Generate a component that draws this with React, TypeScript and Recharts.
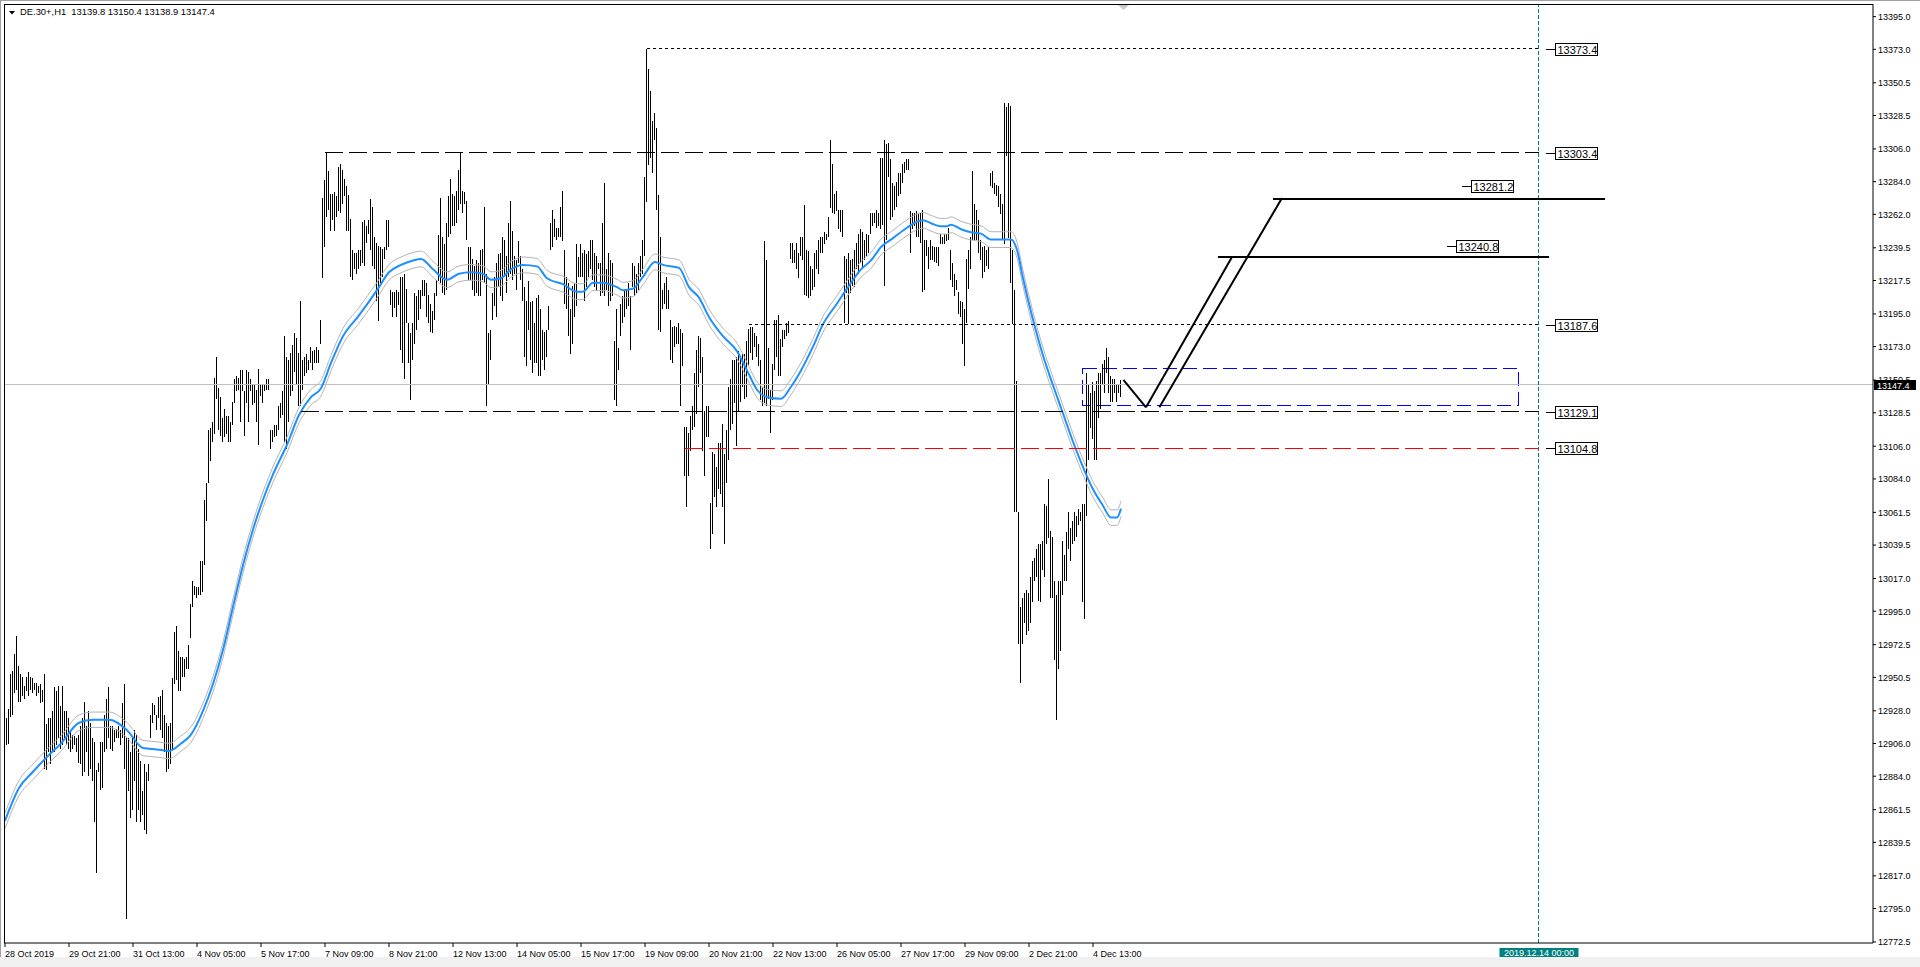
import React from "react";
import {
  ComposedChart,
  Bar,
  Line,
  XAxis,
  YAxis,
  ReferenceLine,
  ReferenceArea,
  ReferenceDot,
} from "recharts";

const FONT = "'Liberation Sans', Arial, sans-serif";

const SYMBOL = "DE.30+,H1";
const LAST_OHLC = ["13139.8", "13150.4", "13138.9", "13147.4"];
const CURRENT_PRICE = 13147.4;

// one time label every 32 hourly bars
const BARS_PER_LABEL = 32;
const TIME_LABELS = [
  "28 Oct 2019", "29 Oct 21:00", "31 Oct 13:00", "4 Nov 05:00", "5 Nov 17:00",
  "7 Nov 09:00", "8 Nov 21:00", "12 Nov 13:00", "14 Nov 05:00", "15 Nov 17:00",
  "19 Nov 09:00", "20 Nov 21:00", "22 Nov 13:00", "26 Nov 05:00", "27 Nov 17:00",
  "29 Nov 09:00", "2 Dec 21:00", "4 Dec 13:00",
];

const PRICE_TICKS = [
  13395.0, 13373.0, 13350.5, 13328.5, 13306.0, 13284.0, 13262.0, 13239.5, 13217.5,
  13195.0, 13173.0, 13150.5, 13128.5, 13106.0, 13084.0, 13061.5, 13039.5, 13017.0,
  12995.0, 12972.5, 12950.5, 12928.0, 12906.0, 12884.0, 12861.5, 12839.5, 12817.0,
  12795.0, 12772.5,
];

// H1 bars as [high, low], one list per time-label interval
const B_28OCT = [[12938,12879],[12923,12905],[12929,12906],[12953,12924],[12955,12925],[12966,12940],[12978,12942],[12958,12934],[12953,12934],[12951,12938],[12945,12936],[12951,12941],[12954,12938],[12951,12942],[12950,12940],[12947,12942],[12947,12938],[12945,12940],[12946,12933],[12942,12934],[12953,12889],[12919,12888],[12923,12900],[12923,12892],[12928,12901],[12944,12900],[12941,12905],[12945,12910],[12931,12902],[12945,12905],[12928,12910],[12928,12905]];
const B_29OCT = [[12923,12902],[12915,12900],[12912,12902],[12911,12905],[12910,12900],[12912,12893],[12918,12892],[12923,12884],[12934,12887],[12918,12900],[12928,12884],[12920,12889],[12910,12881],[12907,12853],[12888,12819],[12893,12887],[12907,12875],[12907,12876],[12925,12900],[12936,12902],[12944,12910],[12918,12902],[12918,12901],[12915,12907],[12916,12910],[12918,12910],[12915,12905],[12933,12910],[12946,12889],[12910,12788],[12910,12874],[12900,12856]];
const B_31OCT = [[12910,12861],[12915,12881],[12912,12853],[12902,12861],[12894,12853],[12874,12858],[12892,12848],[12887,12845],[12892,12881],[12925,12910],[12933,12920],[12932,12925],[12925,12915],[12937,12923],[12938,12915],[12942,12910],[12925,12900],[12920,12887],[12918,12889],[12920,12892],[12950,12902],[12981,12946],[12985,12949],[12968,12941],[12964,12941],[12964,12951],[12963,12951],[12964,12956],[12972,12956],[13000,12977],[13015,12998],[13012,13006]];
const B_4NOV = [[13011,13004],[13011,13006],[13029,13006],[13029,13008],[13070,13026],[13081,13056],[13117,13081],[13118,13096],[13122,13109],[13152,13114],[13166,13138],[13145,13117],[13139,13113],[13125,13109],[13131,13112],[13126,13114],[13126,13109],[13122,13109],[13136,13120],[13151,13135],[13153,13143],[13152,13144],[13157,13122],[13157,13143],[13143,13113],[13157,13135],[13156,13122],[13151,13143],[13148,13134],[13147,13135],[13144,13122],[13158,13107]];
const B_5NOV = [[13148,13140],[13147,13135],[13148,13143],[13151,13144],[13151,13144],[13117,13104],[13117,13109],[13120,13112],[13120,13113],[13133,13117],[13135,13125],[13143,13127],[13180,13109],[13166,13104],[13164,13122],[13169,13140],[13174,13143],[13182,13156],[13179,13148],[13169,13133],[13204,13133],[13164,13144],[13166,13153],[13168,13155],[13164,13157],[13173,13162],[13170,13157],[13171,13162],[13173,13162],[13171,13162],[13191,13175],[13273,13219]];
const B_7NOV = [[13285,13240],[13303,13260],[13291,13265],[13276,13251],[13276,13258],[13277,13251],[13274,13260],[13294,13264],[13296,13263],[13292,13269],[13286,13274],[13281,13251],[13275,13251],[13259,13220],[13238,13218],[13236,13225],[13236,13222],[13238,13225],[13238,13227],[13257,13229],[13258,13227],[13254,13243],[13258,13249],[13272,13238],[13267,13227],[13247,13225],[13243,13204],[13241,13190],[13240,13216],[13239,13220],[13240,13232],[13258,13238]];
const B_8NOV = [[13258,13240],[13211,13201],[13210,13193],[13210,13199],[13211,13193],[13210,13201],[13220,13171],[13220,13162],[13222,13151],[13212,13189],[13189,13162],[13182,13137],[13189,13164],[13209,13175],[13207,13184],[13211,13191],[13211,13198],[13218,13207],[13218,13207],[13216,13193],[13208,13189],[13202,13183],[13197,13182],[13209,13191],[13218,13207],[13248,13217],[13273,13216],[13247,13209],[13242,13208],[13256,13211],[13274,13247],[13286,13249]];
const B_12NOV = [[13276,13254],[13274,13254],[13278,13256],[13292,13265],[13303,13269],[13278,13263],[13277,13269],[13271,13245],[13240,13218],[13240,13218],[13232,13211],[13227,13207],[13231,13209],[13229,13207],[13238,13207],[13239,13218],[13267,13216],[13222,13133],[13182,13148],[13184,13164],[13209,13191],[13220,13200],[13229,13193],[13235,13213],[13236,13207],[13247,13204],[13245,13220],[13234,13209],[13256,13220],[13271,13222],[13251,13218],[13234,13222]];
const B_14NOV = [[13231,13211],[13244,13229],[13234,13218],[13225,13204],[13213,13166],[13204,13160],[13217,13184],[13203,13164],[13204,13155],[13189,13162],[13206,13162],[13208,13153],[13198,13153],[13184,13164],[13183,13157],[13184,13166],[13200,13184],[13256,13238],[13265,13240],[13259,13247],[13253,13245],[13253,13247],[13267,13247],[13278,13244],[13238,13202],[13220,13198],[13216,13180],[13198,13168],[13214,13175],[13216,13193],[13242,13200],[13233,13220]];
const B_15NOV = [[13242,13220],[13236,13220],[13238,13204],[13235,13213],[13237,13220],[13245,13225],[13245,13218],[13236,13213],[13234,13211],[13229,13225],[13229,13207],[13256,13209],[13283,13207],[13225,13211],[13236,13200],[13231,13204],[13229,13207],[13177,13137],[13198,13133],[13172,13157],[13202,13180],[13207,13189],[13211,13193],[13211,13198],[13216,13200],[13207,13171],[13229,13213],[13227,13207],[13222,13209],[13229,13211],[13234,13220],[13245,13222]];
const B_19NOV = [[13287,13234],[13373,13270],[13360,13295],[13345,13300],[13325,13290],[13330,13312],[13320,13265],[13275,13184],[13247,13183],[13211,13198],[13216,13202],[13220,13198],[13211,13198],[13191,13164],[13186,13162],[13187,13173],[13186,13175],[13189,13175],[13185,13133],[13182,13160],[13119,13086],[13119,13065],[13115,13086],[13126,13103],[13133,13117],[13155,13119],[13171,13128],[13180,13146],[13179,13155],[13166,13103],[13130,13086],[13133,13112]];
const B_20NOV = [[13133,13112],[13068,13037],[13102,13047],[13101,13072],[13092,13065],[13108,13077],[13108,13074],[13121,13065],[13101,13040],[13117,13081],[13146,13097],[13151,13117],[13164,13121],[13164,13135],[13166,13106],[13170,13130],[13166,13136],[13168,13146],[13168,13138],[13177,13139],[13185,13160],[13186,13169],[13186,13164],[13182,13173],[13180,13166],[13175,13160],[13164,13137],[13146,13133],[13244,13135],[13231,13133],[13172,13138],[13144,13115]];
const B_22NOV = [[13161,13137],[13191,13157],[13191,13166],[13194,13153],[13178,13153],[13184,13173],[13184,13178],[13189,13180],[13190,13182],[13243,13232],[13243,13229],[13238,13229],[13243,13225],[13236,13219],[13247,13234],[13247,13231],[13268,13208],[13238,13207],[13237,13206],[13227,13207],[13225,13211],[13236,13213],[13238,13225],[13245,13222],[13247,13236],[13247,13236],[13250,13242],[13249,13245],[13260,13247],[13312,13266],[13296,13263],[13276,13262]];
const B_26NOV = [[13278,13264],[13265,13252],[13265,13250],[13265,13247],[13234,13189],[13232,13209],[13236,13188],[13231,13209],[13232,13214],[13238,13213],[13243,13225],[13249,13222],[13252,13229],[13250,13225],[13245,13231],[13249,13234],[13248,13236],[13263,13249],[13263,13254],[13263,13256],[13265,13253],[13263,13254],[13300,13252],[13300,13255],[13312,13214],[13309,13245],[13310,13287],[13299,13258],[13283,13260],[13281,13265],[13284,13267],[13290,13274]];
const B_27NOV = [[13290,13276],[13296,13283],[13297,13290],[13299,13292],[13299,13292],[13264,13236],[13263,13252],[13263,13254],[13264,13247],[13262,13247],[13263,13243],[13265,13210],[13245,13211],[13245,13234],[13240,13225],[13245,13231],[13241,13231],[13240,13230],[13240,13229],[13240,13227],[13249,13242],[13247,13242],[13249,13242],[13249,13244],[13253,13245],[13238,13218],[13229,13213],[13222,13207],[13218,13211],[13210,13195],[13204,13193],[13203,13175]];
const B_29NOV = [[13198,13160],[13232,13189],[13238,13212],[13247,13225],[13291,13245],[13269,13245],[13265,13245],[13258,13236],[13245,13231],[13240,13219],[13241,13223],[13238,13227],[13240,13225],[13290,13281],[13291,13280],[13283,13276],[13282,13274],[13281,13267],[13276,13262],[13269,13245],[13337,13242],[13334,13301],[13337,13246],[13335,13216],[13238,13188],[13211,13062],[13150,13062],[13062,12973],[12998,12947],[13004,12973],[13007,12987],[13009,12979]];
const B_2DEC = [[13007,12982],[13018,12987],[13029,13001],[13031,13015],[13037,13018],[13040,13002],[13040,13001],[13042,13023],[13067,13018],[13066,13040],[13084,13044],[13049,13004],[13045,13004],[13015,12962],[13006,12922],[13015,12956],[13015,12968],[13042,13006],[13033,13015],[13048,13015],[13062,13037],[13051,13029],[13056,13040],[13062,13042],[13059,13045],[13064,13053],[13062,13056],[13067,13001],[13067,12990],[13155,13059],[13147,13097],[13142,13118]];
const B_4DEC = [[13149,13111],[13143,13097],[13150,13097],[13155,13125],[13155,13131],[13161,13147],[13164,13142],[13172,13155],[13166,13142],[13153,13136],[13151,13136],[13151,13142],[13148,13136],[13148,13142],[13150.4,13138.9]];

// moving average: [bar index, value]
const MA_POINTS = [
  [0,12854],[7,12876],[14,12887],[21,12897],[28,12906],[37,12920],[44,12922],[52,12922],[61,12915],
  [69,12903],[76,12902],[82,12901],[88,12906],[93,12912],[99,12928],[104,12946],[109,12969],[114,12998],
  [119,13026],[124,13050],[129,13070],[134,13087],[141,13107],[147,13127],[153,13139],[158,13145],
  [163,13162],[169,13180],[177,13194],[186,13211],[192,13223],[198,13228],[204,13231],[208,13232],
  [214,13225],[221,13218],[227,13222],[233,13223],[239,13222],[243,13218],[248,13219],[253,13225],
  [259,13228],[266,13227],[271,13219],[279,13215],[286,13210],[289,13210],[294,13216],[299,13216],
  [306,13213],[309,13211],[314,13212],[319,13220],[325,13230],[329,13228],[337,13226],[342,13213],
  [347,13206],[352,13193],[359,13180],[366,13170],[371,13157],[376,13144],[381,13139],[388,13138],
  [393,13146],[398,13157],[404,13173],[409,13188],[416,13202],[421,13212],[428,13225],[433,13231],
  [438,13240],[444,13246],[451,13253],[456,13257],[459,13258],[463,13256],[468,13254],[471,13254],
  [473,13255],[478,13252],[483,13250],[488,13249],[493,13245],[498,13245],[503,13245],[506,13238],
  [509,13219],[514,13191],[519,13167],[524,13147],[529,13128],[534,13109],[539,13092],[544,13077],
  [549,13066],[553,13058],[556,13058],[558,13064],
];
const ENVELOPE = 0.0004;

// horizontal levels drawn up to the future date line
const LEVELS = [
  { price: 13373.4, from: 321, kind: "dot" },
  { price: 13303.4, from: 160, kind: "dash" },
  { price: 13187.6, from: 372, kind: "dot" },
  { price: 13129.1, from: 148, kind: "dash" },
  { price: 13104.8, from: 340, kind: "red" },
];
const TARGETS = [
  { price: 13272.4, from: 634, to: 800 },
  { price: 13233.5, from: 606.5, to: 772 },
];
const PATH_A = [[559.2, 13150.6], [570.5, 13132.2], [613.5, 13233.3]];
const PATH_B = [[577.2, 13132.2], [638.5, 13273.0]];
const ZONE = { x1: 538.75, x2: 756.7, top: 13158.4, bottom: 13133.6 };
const FUTURE_AT = 767;
const FUTURE_LABEL = "2019.12.14 00:00";
const TAGS = [
  { price: 13373.4, at: 770 },
  { price: 13303.4, at: 770 },
  { price: 13281.2, at: 728 },
  { price: 13240.8, at: 720.5 },
  { price: 13187.6, at: 770 },
  { price: 13129.1, at: 770 },
  { price: 13104.8, at: 770 },
];

const SEGMENTS = [
  B_28OCT, B_29OCT, B_31OCT, B_4NOV, B_5NOV, B_7NOV, B_8NOV, B_12NOV, B_14NOV,
  B_15NOV, B_19NOV, B_20NOV, B_22NOV, B_26NOV, B_27NOV, B_29NOV, B_2DEC, B_4DEC,
];

const rows: any[] = SEGMENTS.flat().map(([hi, lo], i) => ({ i, range: [lo, hi] }));
MA_POINTS.forEach(([i, v]) => {
  rows[i].ma = v;
  rows[i].up = v * (1 + ENVELOPE);
  rows[i].dn = v * (1 - ENVELOPE);
});

const labelTicks = TIME_LABELS.map((_, k) => k * BARS_PER_LABEL);

const W = 1920;
const H = 967;

function Stick(props: any) {
  const { x, y, width, height } = props;
  if (x == null || y == null) return null;
  const cx = Math.floor(x + width / 2) + 0.5;
  const top = Math.min(y, y + height);
  const len = Math.max(Math.abs(height), 1);
  return <line x1={cx} x2={cx} y1={top} y2={top + len} stroke="#000" strokeWidth={1} shapeRendering="crispEdges" />;
}

// snaps straight lines to whole pixels so dashes stay solid black like the terminal draws them
function crisp(stroke: string, width: number, dash?: string) {
  return (p: any) => {
    let { x1, y1, x2, y2 } = p;
    if (x1 == null || y1 == null) return <g />;
    const snap = (v: number) => (width % 2 === 1 ? Math.floor(v) + 0.5 : Math.round(v));
    const straight = Math.abs(y1 - y2) < 0.01 || Math.abs(x1 - x2) < 0.01;
    if (Math.abs(y1 - y2) < 0.01) { y1 = snap(y1); y2 = y1; }
    if (Math.abs(x1 - x2) < 0.01) { x1 = snap(x1); x2 = x1; }
    return (
      <line
        x1={x1} y1={y1} x2={x2} y2={y2}
        stroke={stroke}
        strokeWidth={width}
        strokeDasharray={dash}
        shapeRendering={straight ? "crispEdges" : "auto"}
        strokeLinecap="butt"
      />
    );
  };
}

function TimeTick({ x, y, payload }: any) {
  const k = Math.round(payload.value / BARS_PER_LABEL);
  return (
    <text x={x} y={y + 8} fontSize={9} fontFamily={FONT} fill="#000" textAnchor="start">
      {TIME_LABELS[k]}
    </text>
  );
}

function PriceTick({ x, y, payload }: any) {
  return (
    <text x={x} y={y + 3.3} fontSize={9} fontFamily={FONT} fill="#000" textAnchor="start">
      {Number(payload.value).toFixed(1)}
    </text>
  );
}

function Tag({ cx, cy, text }: any) {
  if (cx == null) return null;
  const yy = Math.round(cy) + 0.5;
  const x0 = Math.round(cx) + 0.5;
  return (
    <g shapeRendering="crispEdges">
      <line x1={x0} x2={x0 + 10} y1={yy} y2={yy} stroke="#000" />
      <rect x={x0 + 10} y={yy - 6} width={42} height={12} fill="#fff" stroke="#000" />
      <text x={x0 + 12} y={yy + 4} fontSize={11} fontFamily={FONT} fill="#000">{text}</text>
    </g>
  );
}

function CurrentLabel({ viewBox }: any) {
  if (!viewBox) return null;
  const right = viewBox.x + viewBox.width;
  const yy = Math.round(viewBox.y);
  return (
    <g>
      <rect x={right + 1} y={yy - 5} width={42} height={10} fill="#000" />
      <text x={right + 4} y={yy + 3.5} fontSize={9} fontFamily={FONT} fill="#fff">
        {CURRENT_PRICE.toFixed(1)}
      </text>
    </g>
  );
}

function FutureLabel({ viewBox }: any) {
  if (!viewBox) return null;
  const cx = Math.round(viewBox.x);
  const bottom = viewBox.y + viewBox.height;
  return (
    <g>
      <rect x={cx - 39.5} y={bottom + 5} width={79} height={10} fill="#008080" />
      <text x={cx} y={bottom + 13} fontSize={9} fontFamily={FONT} fill="#fff" textAnchor="middle">
        {FUTURE_LABEL}
      </text>
    </g>
  );
}

const dashOf = (kind: string) => (kind === "dot" ? "3 3" : "18 6");

export default function App() {
  return (
    <div style={{ position: "relative", width: W, height: H, background: "#fff", overflow: "hidden", fontFamily: FONT }}>
      <style>{"body{margin:0}"}</style>
      <ComposedChart
        width={W}
        height={H}
        data={rows}
        margin={{ top: 4, right: 0, bottom: 0, left: 4 }}
      >
        <XAxis
          dataKey="i"
          type="number"
          domain={[-0.5, 934]}
          allowDataOverflow
          ticks={labelTicks}
          interval={0}
          tick={<TimeTick />}
          tickSize={4}
          tickMargin={2}
          height={24}
          axisLine={{ stroke: "#000" }}
          tickLine={{ stroke: "#000" }}
        />
        <YAxis
          orientation="right"
          type="number"
          domain={[12771.8, 13403.5]}
          allowDataOverflow
          ticks={PRICE_TICKS}
          interval={0}
          tick={<PriceTick />}
          tickSize={3}
          tickMargin={2}
          width={47}
          axisLine={{ stroke: "#000" }}
          tickLine={{ stroke: "#000" }}
        />
        <ReferenceLine y={CURRENT_PRICE} shape={crisp("#c0c0c0", 1)} label={<CurrentLabel />} />
        <ReferenceLine x={FUTURE_AT} shape={crisp("#008080", 1, "4 2")} label={<FutureLabel />} />
        <Bar dataKey="range" barSize={1} shape={<Stick />} isAnimationActive={false} />
        <Line dataKey="up" type="monotone" stroke="#b4b4b4" strokeWidth={1} dot={false} connectNulls isAnimationActive={false} />
        <Line dataKey="dn" type="monotone" stroke="#b4b4b4" strokeWidth={1} dot={false} connectNulls isAnimationActive={false} />
        <Line dataKey="ma" type="monotone" stroke="#1e90ff" strokeWidth={2} dot={false} connectNulls isAnimationActive={false} />
        {LEVELS.map((l) => (
          <ReferenceLine
            key={l.price}
            segment={[{ x: l.from, y: l.price }, { x: FUTURE_AT, y: l.price }]}
            shape={crisp(l.kind === "red" ? "#ff0000" : "#000", 1, dashOf(l.kind))}
          />
        ))}
        {TARGETS.map((t) => (
          <ReferenceLine
            key={t.price}
            segment={[{ x: t.from, y: t.price }, { x: t.to, y: t.price }]}
            shape={crisp("#000", 2)}
          />
        ))}
        {[PATH_A, PATH_B].flatMap((path, pi) =>
          path.slice(1).map((pt, k) => (
            <ReferenceLine
              key={`p${pi}-${k}`}
              segment={[{ x: path[k][0], y: path[k][1] }, { x: pt[0], y: pt[1] }]}
              shape={crisp("#000", 2)}
            />
          ))
        )}
        <ReferenceArea
          x1={ZONE.x1}
          x2={ZONE.x2}
          y1={ZONE.bottom}
          y2={ZONE.top}
          fill="none"
          fillOpacity={0}
          stroke="#0000ff"
          strokeDasharray="14 6"
          shapeRendering="crispEdges"
        />
        {TAGS.map((t) => (
          <ReferenceDot
            key={`tag${t.price}`}
            x={t.at}
            y={t.price}
            r={0}
            shape={(p: any) => <Tag cx={p.cx} cy={p.cy} text={t.price.toFixed(1)} />}
          />
        ))}
      </ComposedChart>
      {/* chart frame and window chrome */}
      <div style={{ position: "absolute", left: 4, top: 4, width: 1869, height: 939, borderLeft: "1px solid #000", borderTop: "1px solid #000", boxSizing: "border-box", pointerEvents: "none" }} />
      <div style={{ position: "absolute", left: 0, top: 0, width: W, height: H, borderLeft: "1px solid #a0a0a0", borderTop: "1px solid #a0a0a0", boxSizing: "border-box", pointerEvents: "none" }} />
      <div style={{ position: "absolute", left: 0, top: 957, width: W, height: 10, background: "#f0f0f0" }} />
      <svg style={{ position: "absolute", left: 0, top: 0 }} width={40} height={20}>
        <polygon points="9,11 15,11 12,14.5" fill="#000" />
      </svg>
      <svg style={{ position: "absolute", left: 1118, top: 4 }} width={12} height={8}>
        <polygon points="0,1 11,1 5.5,6" fill="#c8c8c8" />
      </svg>
      <div style={{ position: "absolute", left: 20, top: 7, fontSize: 9.4, lineHeight: "10px", color: "#000", whiteSpace: "pre" }}>
        {`${SYMBOL}  ${LAST_OHLC.join(" ")}`}
      </div>
    </div>
  );
}
